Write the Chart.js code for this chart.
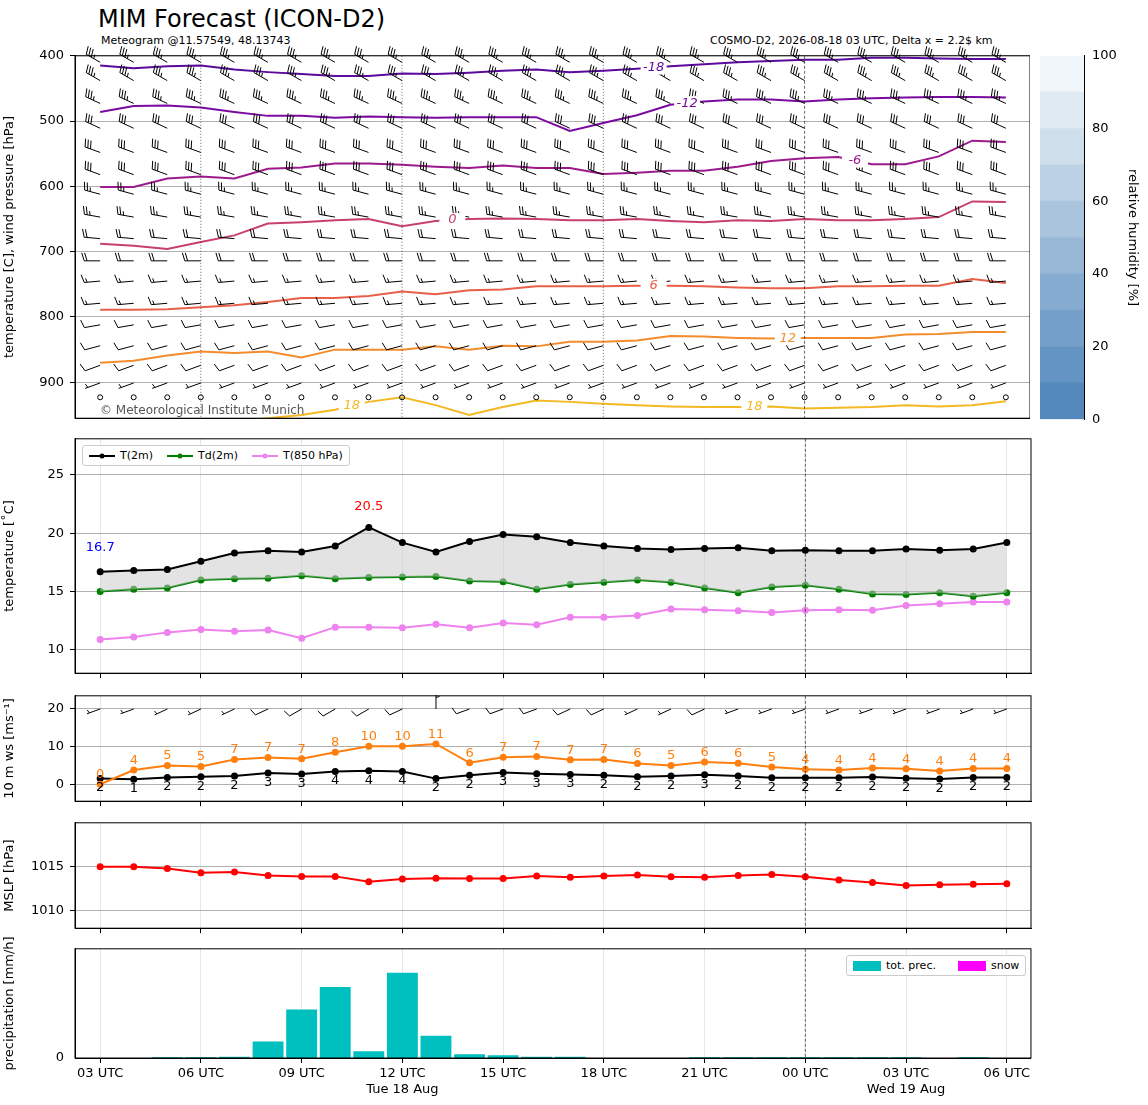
<!DOCTYPE html>
<html>
<head>
<meta charset="utf-8">
<script src="https://cdn.jsdelivr.net/npm/chart.js@4.4.1/dist/chart.umd.min.js"></script>
<style>
  body { margin: 0; background: #fff; font-family: 'DejaVu Sans', sans-serif; }
  #wrap { position: relative; width: 1148px; height: 1105px; }
  canvas { position: absolute; }
  .txt { position: absolute; white-space: nowrap; }
  .leg { position: absolute; border: 1px solid #ccc; border-radius: 3px; background: #fff; font-size: 11px; padding: 3px 6px; display: flex; gap: 14px; align-items: center; }
  .leg span { display: flex; align-items: center; gap: 5px; }
</style>
</head>
<body>
<div id="wrap">
  <div class="txt" style="left:98px;top:5px;font-size:24px;">MIM Forecast (ICON-D2)</div>
  <div class="txt" style="left:101px;top:34px;font-size:11px;">Meteogram @11.57549, 48.13743</div>
  <div class="txt" style="left:710px;top:34px;font-size:11px;">COSMO-D2, 2026-08-18 03 UTC, Delta x = 2.2$ km</div>

  <canvas id="c1" width="1030" height="390" style="left:0;top:42px"></canvas>
  <canvas id="cbar" width="108" height="385" style="left:1036px;top:45px"></canvas>
  <div class="txt" style="left:100px;top:403px;font-size:12px;color:#555;">© Meteorological Institute Munich</div>

  <canvas id="c2" width="1037" height="262" style="left:0;top:425px"></canvas>
  <div class="leg" style="left:82px;top:445px;">
    <span><svg width="26" height="8"><line x1="0" y1="4" x2="26" y2="4" stroke="black" stroke-width="2"/><circle cx="13" cy="4" r="2.5" fill="black"/></svg>T(2m)</span>
    <span><svg width="26" height="8"><line x1="0" y1="4" x2="26" y2="4" stroke="green" stroke-width="2"/><circle cx="13" cy="4" r="2.5" fill="green"/></svg>Td(2m)</span>
    <span><svg width="26" height="8"><line x1="0" y1="4" x2="26" y2="4" stroke="violet" stroke-width="2"/><circle cx="13" cy="4" r="2.5" fill="violet"/></svg>T(850 hPa)</span>
  </div>

  <canvas id="c3" width="1037" height="133" style="left:0;top:682px"></canvas>
  <canvas id="c4" width="1037" height="133" style="left:0;top:809px"></canvas>
  <canvas id="c5" width="1033" height="168" style="left:0;top:935px"></canvas>
  <div class="leg" style="left:846px;top:955px;gap:22px;">
    <span><svg width="28" height="10"><rect width="28" height="10" fill="#00bfbf"/></svg>tot. prec.</span>
    <span><svg width="28" height="10"><rect width="28" height="10" fill="#ff00ff"/></svg>snow</span>
  </div>
</div>
<script>
// ---------------------
// Dados
// ---------------------
const HOURS = [3,4,5,6,7,8,9,10,11,12,13,14,15,16,17,18,19,20,21,22,23,0,1,2,3,4,5,6];
const TICK_LABELS = {0: ['03 UTC'], 3: ['06 UTC'], 6: ['09 UTC'], 9: ['12 UTC', 'Tue 18 Aug'], 12: ['15 UTC'],
                     15: ['18 UTC'], 18: ['21 UTC'], 21: ['00 UTC'], 24: ['03 UTC', 'Wed 19 Aug'], 27: ['06 UTC']};

// isotermas: pressão [hPa] de cada isoterma por hora
const ISO_M18 = [415,419,416,415,421,425,428,431,431,427,428,426,423,421,425,423,420,416,413,410,408,406,406,403,403,404,405,405];
const ISO_M12 = [486,477,476,479,486,492,492,495,493,494,495,494,494,494,515,503,491,475,470,467,467,470,467,465,464,463,463,464];
const ISO_M6  = [601,601,588,585,588,573,571,565,565,567,570,572,568,572,572,581,579,576,576,570,561,557,555,566,566,554,530,532];
const ISO_0   = [688,691,696,685,675,657,655,652,650,661,653,650,649,650,652,652,650,653,655,652,653,650,652,652,650,647,623,624];
const ISO_6   = [789,789,788,785,782,777,771,771,768,761,765,759,758,753,753,753,752,752,753,755,756,756,753,753,752,752,742,748];
const ISO_12  = [870,867,859,853,855,853,862,850,850,850,845,850,844,845,838,838,836,829,830,832,833,832,832,832,827,826,823,823];
const ISO_18  = [968,966,965,962,960,955,950,942,930,923,935,950,938,928,930,933,935,937,938,938,937,940,939,938,935,937,935,929];

// vento em altitude: níveis, direção [graus], velocidade [kt]
const BARB_LEVELS = [410,438,473,511,548,582,612,647,680,714,745,779,812,844,874,901,923];
const BARB_DIR    = [300,300,295,295,290,290,285,280,275,270,265,265,260,255,250,250,0];
const BARB_KT     = [35,35,35,30,30,30,25,25,20,20,15,15,10,10,10,5,0];

const T2M  = [16.7,16.8,16.9,17.6,18.3,18.5,18.4,18.9,20.5,19.2,18.4,19.3,19.9,19.7,19.2,18.9,18.7,18.6,18.7,18.75,18.5,18.55,18.5,18.5,18.65,18.55,18.65,19.2];
const TD2M = [15.0,15.2,15.3,16.0,16.1,16.15,16.35,16.1,16.2,16.25,16.3,15.9,15.85,15.2,15.6,15.8,16.0,15.8,15.3,14.9,15.4,15.55,15.2,14.8,14.75,14.9,14.6,14.9];
const T850 = [10.9,11.1,11.5,11.75,11.6,11.7,11.0,11.95,11.95,11.9,12.2,11.9,12.3,12.15,12.8,12.8,12.95,13.5,13.45,13.35,13.2,13.4,13.45,13.4,13.8,13.95,14.1,14.1];

const WS10   = [1.5,1.3,1.8,2.0,2.2,3.0,2.7,3.4,3.6,3.4,1.5,2.4,3.1,2.8,2.6,2.4,2.0,2.2,2.5,2.2,1.7,1.7,1.7,1.9,1.6,1.4,1.8,1.8];
const WS_LBL = [2,1,2,2,2,3,3,4,4,4,2,2,3,3,3,2,2,2,3,2,2,2,2,2,2,2,2,2];
const GUST   = [0,3.8,5.0,4.7,6.6,7.1,6.8,8.5,10.1,10.1,10.7,5.7,7.2,7.4,6.5,6.6,5.5,5.0,5.9,5.6,4.6,4.0,3.8,4.3,4.1,3.5,4.2,4.2];
const GUST_LBL = [0,4,5,5,7,7,7,8,10,10,11,6,7,7,7,7,6,5,6,6,5,4,4,4,4,4,4,4];
const DIR10  = [250,250,245,245,245,245,240,240,240,245,0,250,250,250,245,245,245,245,245,250,250,250,250,250,250,250,250,250];

const MSLP = [1015.0,1015.0,1014.8,1014.3,1014.4,1014.0,1013.9,1013.9,1013.3,1013.6,1013.7,1013.65,1013.65,1013.95,1013.8,1013.95,1014.05,1013.85,1013.8,1014.0,1014.1,1013.85,1013.5,1013.2,1012.85,1012.95,1013.0,1013.05];
const PRECIP = [0,0,0.02,0.02,0.04,0.48,1.42,2.08,0.2,2.5,0.65,0.11,0.08,0.04,0.04,0,0,0,0.02,0.02,0.02,0.02,0.02,0.02,0.02,0,0.02,0];
const SNOW = PRECIP.map(() => 0);

const RH_COLORS = ['#5288bc','#6394c3','#749fc9','#86abd0','#98b7d6','#aac4dd','#bcd1e4','#cedeeb','#e0eaf2','#f1f6fa'];

// ---------------------
// Utilidades
// ---------------------
Chart.defaults.font.family = 'DejaVu Sans';
Chart.defaults.font.size = 13;
Chart.defaults.color = '#000';
Chart.defaults.animation = false;

const pts = arr => arr.map((v, i) => ({x: i, y: v}));

function eixoX(comRotulos) {
  return {
    type: 'linear', min: -0.75, max: 27.72, offset: false,
    afterBuildTicks: s => { s.ticks = [0,3,6,9,12,15,18,21,24,27].map(v => ({value: v})); },
    ticks: { display: comRotulos, autoSkip: false, maxRotation: 0, callback: v => TICK_LABELS[v] || '' },
    grid: { color: '#e6e6e6', tickColor: '#000', tickLength: 5, offset: false },
    border: { color: '#000' },
    afterFit: s => { if (comRotulos) s.height = 45; }
  };
}

function eixoY(titulo, min, max, ticks, extra) {
  return Object.assign({
    min, max,
    afterBuildTicks: s => { s.ticks = ticks.map(v => ({value: v})); },
    ticks: { padding: 6, callback: v => String(v) },
    grid: { color: '#b0b0b0', tickColor: '#000', tickLength: 5 },
    border: { color: '#000' },
    title: { display: true, text: titulo, font: {size: 13}, padding: 2 },
    afterFit: s => { s.width = 75; }
  }, extra || {});
}

// moldura e linhas verticais de referência
const moldura = {
  id: 'moldura',
  afterDatasetsDraw(chart, args, opts) {
    const {ctx, chartArea: a, scales: {x}} = chart;
    ctx.save();
    ctx.strokeStyle = '#000'; ctx.lineWidth = 0.6;
    if (opts.dotted) {
      ctx.setLineDash([1, 2]);
      [3, 9, 15].forEach(i => { const px = x.getPixelForValue(i); ctx.beginPath(); ctx.moveTo(px, a.top); ctx.lineTo(px, a.bottom); ctx.stroke(); });
    }
    ctx.setLineDash([3, 2]);
    const p0 = x.getPixelForValue(21);
    ctx.beginPath(); ctx.moveTo(p0, a.top); ctx.lineTo(p0, a.bottom); ctx.stroke();
    ctx.setLineDash([]); ctx.lineWidth = 1;
    ctx.strokeRect(a.left, a.top, a.right - a.left, a.bottom - a.top);
    ctx.restore();
  }
};

function barb(ctx, x, y, dir, kt, len) {
  if (kt < 2.5) { ctx.beginPath(); ctx.arc(x, y, 2.5, 0, 2 * Math.PI); ctx.stroke(); return; }
  const r = dir * Math.PI / 180, ux = Math.sin(r), uy = -Math.cos(r);
  const px = -uy, py = ux;
  const tx = x + ux * len, ty = y + uy * len;
  ctx.beginPath(); ctx.moveTo(x, y); ctx.lineTo(tx, ty);
  let s = Math.round(kt / 5) * 5, pos = 0;
  const bl = len * 0.5, sp = len * 0.18;
  while (s >= 10) {
    const bx = tx - ux * pos, by = ty - uy * pos;
    ctx.moveTo(bx, by); ctx.lineTo(bx + px * bl + ux * bl * 0.3, by + py * bl + uy * bl * 0.3);
    pos += sp; s -= 10;
  }
  if (s >= 5) {
    if (pos === 0) pos = sp;
    const bx = tx - ux * pos, by = ty - uy * pos;
    ctx.moveTo(bx, by); ctx.lineTo(bx + px * bl * 0.5 + ux * bl * 0.15, by + py * bl * 0.5 + uy * bl * 0.15);
  }
  ctx.stroke();
}

// ---------------------
// Painel 1: isotermas e vento
// ---------------------
const ISO = [
  {d: ISO_M18, c: '#5a0a9c', t: '-18', at: [16]},
  {d: ISO_M12, c: '#7a0aa0', t: '-12', at: [17]},
  {d: ISO_M6,  c: '#9c1a8c', t: '-6',  at: [22]},
  {d: ISO_0,   c: '#c8406c', t: '0',   at: [10]},
  {d: ISO_6,   c: '#e8604a', t: '6',   at: [16]},
  {d: ISO_12,  c: '#f28c2c', t: '12',  at: [20]},
  {d: ISO_18,  c: '#f4b922', t: '18',  at: [7, 19]}
];

const ventoAltitude = {
  id: 'ventoAltitude',
  afterDatasetsDraw(chart) {
    const {ctx, scales: {x, y}} = chart;
    ctx.save(); ctx.strokeStyle = '#000'; ctx.lineWidth = 1;
    BARB_LEVELS.forEach((p, k) => {
      HOURS.forEach((h, i) => barb(ctx, x.getPixelForValue(i), y.getPixelForValue(p), BARB_DIR[k], BARB_KT[k], 16));
    });
    // rótulos das isotermas
    ctx.font = 'italic 13px DejaVu Sans'; ctx.textAlign = 'center'; ctx.textBaseline = 'middle';
    ISO.forEach(s => s.at.forEach(i => {
      const px = x.getPixelForValue(i + 0.5), py = y.getPixelForValue((s.d[i] + s.d[i + 1]) / 2);
      if (py > chart.chartArea.bottom) return;
      ctx.fillStyle = '#fff'; ctx.fillRect(px - 13, py - 7, 26, 14);
      ctx.fillStyle = s.c; ctx.fillText(s.t, px, py);
    }));
    ctx.restore();
  }
};

new Chart(document.getElementById('c1'), {
  type: 'line',
  data: { datasets: ISO.map(s => ({ data: pts(s.d), borderColor: s.c, borderWidth: 2, pointRadius: 0 })) },
  options: {
    responsive: false, layout: { padding: {top: 6, bottom: 6, right: 0} },
    plugins: { legend: {display: false}, tooltip: {enabled: false}, moldura: {dotted: true} },
    scales: {
      x: Object.assign(eixoX(false), { grid: { display: false, tickLength: 5 } }),
      y: eixoY('temperature [C], wind pressure [hPa]', 400, 955, [400,500,600,700,800,900], { reverse: true })
    }
  },
  plugins: [ventoAltitude, moldura]
});

// barra de cores (umidade relativa)
new Chart(document.getElementById('cbar'), {
  type: 'bar',
  data: { labels: [''], datasets: RH_COLORS.map(c => ({ data: [10], backgroundColor: c, barPercentage: 1, categoryPercentage: 1 })) },
  options: {
    responsive: false, layout: { padding: {top: 6, bottom: 6, left: 4} },
    plugins: { legend: {display: false}, tooltip: {enabled: false} },
    scales: {
      x: { stacked: true, display: false },
      y: { stacked: true, position: 'right', min: 0, max: 100, ticks: { stepSize: 20 },
           grid: { display: false, tickColor: '#000', tickLength: 5 }, border: { color: '#000' },
           title: { display: true, text: 'relative humidity [%]', font: {size: 13} },
           afterFit: s => { s.width = 60; } }
    }
  }
});

// ---------------------
// Painel 2: temperaturas
// ---------------------
const rotulosTemp = {
  id: 'rotulosTemp',
  afterDatasetsDraw(chart) {
    const {ctx, scales: {x, y}} = chart;
    ctx.save(); ctx.font = '13px DejaVu Sans'; ctx.textAlign = 'center';
    ctx.fillStyle = 'red'; ctx.fillText(T2M[8].toFixed(1), x.getPixelForValue(8), y.getPixelForValue(T2M[8] + 1.5));
    ctx.fillStyle = 'blue'; ctx.fillText(T2M[0].toFixed(1), x.getPixelForValue(0), y.getPixelForValue(T2M[0] + 1.8));
    ctx.restore();
  }
};

new Chart(document.getElementById('c2'), {
  type: 'line',
  data: { datasets: [
    { data: pts(T2M), borderColor: '#000', backgroundColor: 'rgba(200,200,200,0.5)', fill: 1, borderWidth: 2, pointRadius: 2.5, pointBackgroundColor: '#000' },
    { data: pts(TD2M), borderColor: 'green', borderWidth: 2, pointRadius: 2.5, pointBackgroundColor: 'green' },
    { data: pts(T850), borderColor: 'violet', borderWidth: 2, pointRadius: 2.5, pointBackgroundColor: 'violet' }
  ] },
  options: {
    responsive: false, layout: { padding: {top: 6, bottom: 6} },
    plugins: { legend: {display: false}, tooltip: {enabled: false}, filler: {propagate: false} },
    scales: { x: eixoX(false), y: eixoY('temperature [˚C]', 8, 28.1, [10,15,20,25]) }
  },
  plugins: [rotulosTemp, moldura]
});

// ---------------------
// Painel 3: vento 10 m
// ---------------------
const rotulosVento = {
  id: 'rotulosVento',
  afterDatasetsDraw(chart) {
    const {ctx, scales: {x, y}} = chart;
    ctx.save(); ctx.font = '13px DejaVu Sans'; ctx.textAlign = 'center';
    HOURS.forEach((h, i) => {
      const px = x.getPixelForValue(i);
      ctx.fillStyle = '#ff7f0e'; ctx.textBaseline = 'bottom';
      ctx.fillText(GUST_LBL[i], px, y.getPixelForValue(GUST[i]) - 3);
      ctx.fillStyle = '#000'; ctx.textBaseline = 'top';
      ctx.fillText(WS_LBL[i], px, y.getPixelForValue(WS10[i]) + 3);
      ctx.strokeStyle = '#000'; ctx.lineWidth = 1;
      barb(ctx, px, y.getPixelForValue(20), DIR10[i], WS10[i] * 1.94 + 3, 14);
    });
    ctx.restore();
  }
};

new Chart(document.getElementById('c3'), {
  type: 'line',
  data: { datasets: [
    { data: pts(GUST), borderColor: '#ff7f0e', borderWidth: 2, pointRadius: 2.5, pointBackgroundColor: '#ff7f0e' },
    { data: pts(WS10), borderColor: '#000', borderWidth: 2, pointRadius: 2.5, pointBackgroundColor: '#000' }
  ] },
  options: {
    responsive: false, layout: { padding: {top: 6, bottom: 6} },
    plugins: { legend: {display: false}, tooltip: {enabled: false} },
    scales: { x: eixoX(false), y: eixoY('10 m ws [ms⁻¹]', -4.5, 23.5, [0,10,20]) }
  },
  plugins: [rotulosVento, moldura]
});

// ---------------------
// Painel 4: MSLP
// ---------------------
new Chart(document.getElementById('c4'), {
  type: 'line',
  data: { datasets: [
    { data: pts(MSLP), borderColor: 'red', borderWidth: 2, pointRadius: 2.5, pointBackgroundColor: 'red' }
  ] },
  options: {
    responsive: false, layout: { padding: {top: 6, bottom: 6} },
    plugins: { legend: {display: false}, tooltip: {enabled: false} },
    scales: { x: eixoX(false), y: eixoY('MSLP [hPa]', 1008, 1020, [1010,1015]) }
  },
  plugins: [moldura]
});

// ---------------------
// Painel 5: precipitação
// ---------------------
new Chart(document.getElementById('c5'), {
  type: 'bar',
  data: { datasets: [
    { data: pts(PRECIP), backgroundColor: '#00bfbf', barPercentage: 0.92, categoryPercentage: 1, grouped: false },
    { data: pts(SNOW), backgroundColor: '#ff00ff', barPercentage: 0.92, categoryPercentage: 1, grouped: false }
  ] },
  options: {
    responsive: false, layout: { padding: {top: 6, bottom: 0} },
    plugins: { legend: {display: false}, tooltip: {enabled: false} },
    scales: { x: eixoX(true), y: eixoY('precipitation [mm/h]', 0, 3.2, [0], { grid: { display: false, tickColor: '#000', tickLength: 5 } }) }
  },
  plugins: [moldura]
});
</script>
</body>
</html>
